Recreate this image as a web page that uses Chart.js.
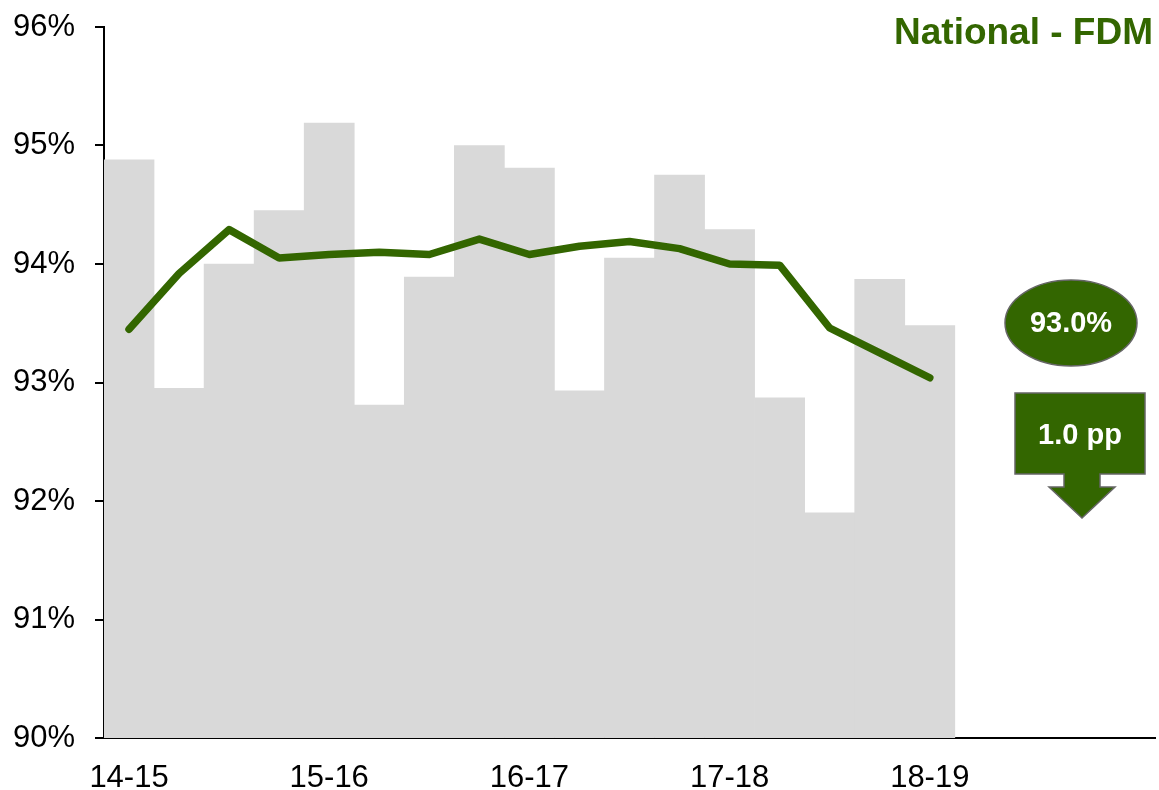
<!DOCTYPE html>
<html>
<head>
<meta charset="utf-8">
<script src="https://cdn.jsdelivr.net/npm/chart.js@4"></script>
<style>
  html, body { margin: 0; padding: 0; background: #fff; }
  #wrap { width: 1159px; height: 790px; }
</style>
</head>
<body>
<div id="wrap"><canvas id="fdmChart" width="1159" height="790"></canvas></div>
<script>
// ===== National FDM quarterly chart =====
const quarters = [
  "14-15", "", "", "",
  "15-16", "", "", "",
  "16-17", "", "", "",
  "17-18", "", "", "",
  "18-19", "", "", "", ""
];

// quarterly values (grey bars)
const quarterValues = [
  94.88, 92.95, 94.00, 94.45,
  95.19, 92.81, 93.89, 95.00,
  94.81, 92.93, 94.05, 94.75,
  94.29, 92.87, 91.90, 93.87,
  93.48
];

// rolling 12-month line
const rollingValues = [
  93.45, 93.92, 94.29, 94.05,
  94.08, 94.10, 94.08, 94.21,
  94.08, 94.15, 94.19, 94.13,
  94.00, 93.99, 93.46, 93.25,
  93.04
];

const yTicks = [90, 91, 92, 93, 94, 95, 96];

const GREEN = "#336600";
const FONT = "'Liberation Sans', Arial, sans-serif";

const latest = rollingValues[rollingValues.length - 1];
const yearAgo = rollingValues[rollingValues.length - 5];
const latestText = latest.toFixed(1) + "%";
const changeText = Math.abs(latest - yearAgo).toFixed(1) + " pp";

const annotations = {
  id: "annotations",
  afterDraw(chart) {
    const c = chart.ctx;
    c.save();
    // title
    c.fillStyle = GREEN;
    c.font = "bold 37px " + FONT;
    c.textAlign = "right";
    c.textBaseline = "middle";
    c.fillText("National - FDM", 1153, 34);

    // ellipse with latest value
    c.beginPath();
    c.ellipse(1071, 323, 66, 43, 0, 0, Math.PI * 2);
    c.fillStyle = GREEN;
    c.fill();
    c.lineWidth = 1.5;
    c.strokeStyle = "#666";
    c.stroke();
    c.fillStyle = "#fff";
    c.font = "bold 29px " + FONT;
    c.textAlign = "center";
    c.fillText(latestText, 1071, 324);

    // down arrow box
    c.beginPath();
    c.moveTo(1015, 393);
    c.lineTo(1145, 393);
    c.lineTo(1145, 474);
    c.lineTo(1100, 474);
    c.lineTo(1100, 487);
    c.lineTo(1115, 487);
    c.lineTo(1082, 518);
    c.lineTo(1049, 487);
    c.lineTo(1064, 487);
    c.lineTo(1064, 474);
    c.lineTo(1015, 474);
    c.closePath();
    c.fillStyle = GREEN;
    c.fill();
    c.strokeStyle = "#666";
    c.stroke();
    c.fillStyle = "#fff";
    c.fillText(changeText, 1080, 436);
    c.restore();
  }
};

new Chart(document.getElementById("fdmChart").getContext("2d"), {
  data: {
    labels: quarters,
    datasets: [
      {
        type: "line",
        data: rollingValues,
        borderColor: GREEN,
        borderWidth: 7.5,
        pointRadius: 0,
        tension: 0,
        borderCapStyle: "round",
        borderJoinStyle: "round",
        order: 1
      },
      {
        type: "bar",
        data: quarterValues,
        backgroundColor: "#d9d9d9",
        categoryPercentage: 1.0,
        barPercentage: 1.0,
        order: 2
      }
    ]
  },
  options: {
    responsive: false,
    animation: false,
    layout: { padding: { top: 27, right: 4, left: 0, bottom: 0 } },
    plugins: {
      legend: { display: false },
      tooltip: { enabled: false }
    },
    scales: {
      x: {
        grid: { display: false },
        border: { display: true, color: "#000", width: 2 },
        ticks: {
          autoSkip: false,
          maxRotation: 0,
          color: "#000",
          padding: 14,
          font: { family: FONT, size: 31 }
        },
        afterFit(scale) {
          scale.height = 52;
          scale.paddingLeft = 0;
          scale.paddingRight = 0;
        }
      },
      y: {
        min: 90,
        max: 96,
        afterBuildTicks(scale) { scale.ticks = yTicks.map(v => ({ value: v })); },
        grid: { drawOnChartArea: false, drawTicks: true, tickLength: 9, color: "#000", lineWidth: 2 },
        border: { display: true, color: "#000", width: 2 },
        ticks: {
          color: "#000",
          padding: 20,
          font: { family: FONT, size: 31 },
          callback: v => v + "%"
        },
        afterFit(scale) {
          scale.width = 104;
          scale.paddingTop = 0;
          scale.paddingBottom = 0;
        }
      }
    }
  },
  plugins: [annotations]
});
</script>
</body>
</html>
